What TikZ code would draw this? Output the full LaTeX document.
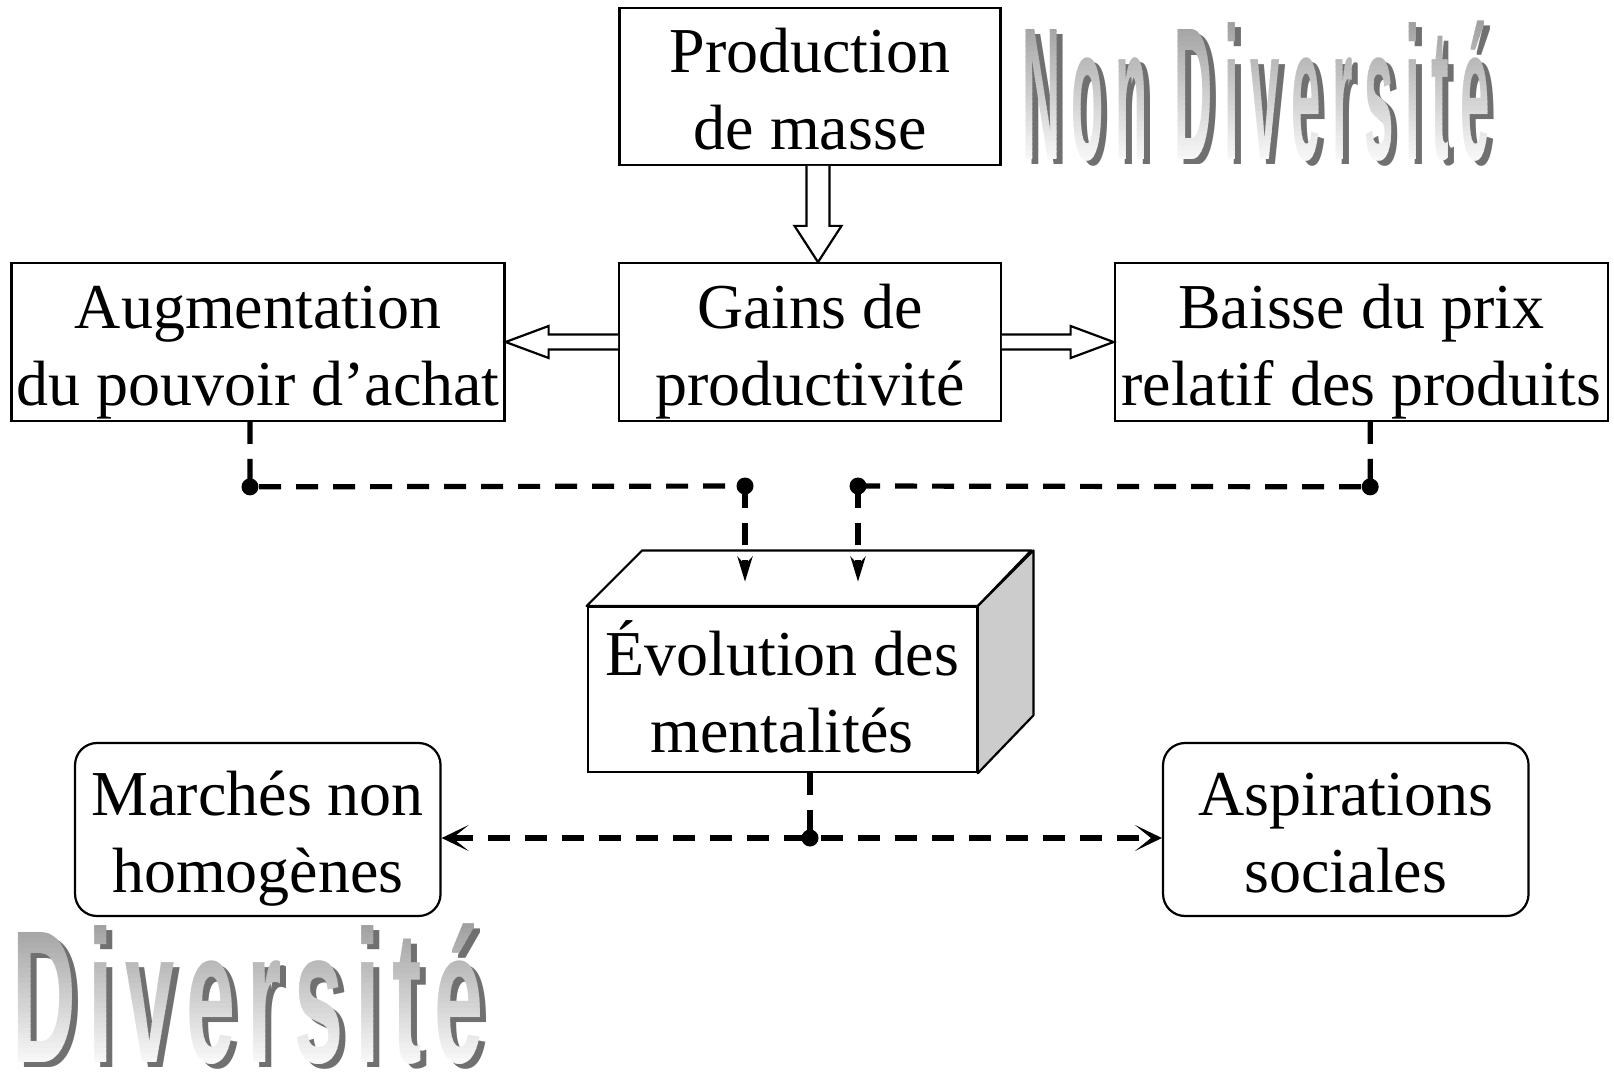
\documentclass[tikz,border=0pt]{standalone}
\usepackage{fontspec}
\setmainfont{Liberation Serif}
\newfontfamily\bigA{Liberation Sans}[LetterSpace=22]
\newfontfamily\bigB{Liberation Sans}[LetterSpace=14]
\usetikzlibrary{calc,arrows.meta}
\definecolor{shadowgray}{HTML}{707070}
\definecolor{sidegray}{HTML}{CCCCCC}
\newcommand\ndword{\scalebox{0.88}[3.15]{\bigA\bfseries\fontsize{60}{60}\selectfont Non Diversité}}
\newcommand\dword{\scalebox{1.47}[3.15]{\bigB\bfseries\fontsize{60}{60}\selectfont Diversité}}
\begin{document}
\begin{tikzpicture}[x=1pt,y=-1pt,
  txt/.style={font=\fontsize{64}{77}\selectfont, align=center, inner sep=0pt, text height=126pt, text depth=0pt},
  sqbox/.style={txt, draw, line width=2.2pt},
  rbox/.style={sqbox, rounded corners=22pt},
  hollow/.style={draw, line width=2.2pt, fill=white, line join=miter},
  dashline/.style={line width=5.2pt, dash pattern=on 22pt off 15pt},
  dotc/.style={circle, fill, inner sep=0pt, minimum size=17pt},
  vtip/.style={-{Stealth[length=25pt,width=15pt,inset=8pt]}},
  htip/.style={{Stealth[length=27pt,width=26pt,inset=16pt]}-{Stealth[length=27pt,width=26pt,inset=16pt]}},
  big/.style={anchor=base west, inner sep=0pt}
]
\useasboundingbox (0,0) rectangle (1614,1071);
\fill[white] (0,0) rectangle (1614,1071);

% big decorative words: shadow, then a gradient made of clipped strips
\node[big, text=shadowgray] (ndsh) at (1028,164) {\ndword};
\foreach \i in {0,...,29}{
  \pgfmathsetmacro\pct{38-\i*1.25}
  \begin{scope}
    \clip (1000,{16+\i*5}) rectangle (1530,{21.6+\i*5});
    \node[big, text=black!\pct] (nd\i) at (1022,159) {\ndword};
  \end{scope}
}
\node[big, text=shadowgray] (dsh) at (18,1067) {\dword};
\foreach \i in {0,...,29}{
  \pgfmathsetmacro\pct{38-\i*1.25}
  \begin{scope}
    \clip (0,{918+\i*5}) rectangle (520,{923.6+\i*5});
    \node[big, text=black!\pct] (dv\i) at (12,1062) {\dword};
  \end{scope}
}

% boxes
\node[sqbox, minimum width=381pt, minimum height=156.5pt] (prod) at (810,86.5) {Production\\de masse};
\node[sqbox, minimum width=381.5pt, minimum height=157.5pt] (gains) at (810,342) {Gains de\\productivité};
\node[sqbox, minimum width=493pt, minimum height=157.5pt] (augm) at (258,342) {Augmentation\\du pouvoir d’achat};
\node[sqbox, minimum width=493pt, minimum height=157.5pt] (baisse) at (1361.2,342) {Baisse du prix\\relatif des produits};
\node[sqbox, minimum width=389pt, minimum height=165pt] (evol) at (782.2,689.6) {Évolution des\\mentalités};
\draw[line width=2.2pt, fill=white, line join=round] (evol.north west) -- ++(55.6,-55.6) -- ++(389,0) -- (evol.north east) -- cycle;
\draw[line width=2.2pt, fill=sidegray, line join=round] (evol.north east) -- ++(55.6,-55.6) -- ++(0,165) -- (evol.south east) -- cycle;
\node[rbox, minimum width=365.5pt, minimum height=173pt] (march) at (257.8,829.5) {Marchés non\\homogènes};
\node[rbox, minimum width=365.5pt, minimum height=173pt] (aspir) at (1345.8,829.5) {Aspirations\\sociales};

% hollow arrows
\coordinate (pa) at ($(prod.south)+(8,0)$);
\coordinate (pb) at ($(gains.north)+(8,0)$);
\draw[hollow] ($(pa)+(-11.5,0)$) -- ($(pa)+(-11.5,60)$) -- ($(pa)+(-23.5,60)$) -- (pb) -- ($(pa)+(23.5,60)$) -- ($(pa)+(11.5,60)$) -- ($(pa)+(11.5,0)$);
\draw[hollow] ($(gains.west)+(0,-7.5)$) -- ($(augm.east)+(43,-7.5)$) -- ($(augm.east)+(43,-16)$) -- (augm.east) -- ($(augm.east)+(43,16)$) -- ($(augm.east)+(43,7.5)$) -- ($(gains.west)+(0,7.5)$);
\draw[hollow] ($(gains.east)+(0,-7.5)$) -- ($(baisse.west)+(-43,-7.5)$) -- ($(baisse.west)+(-43,-16)$) -- (baisse.west) -- ($(baisse.west)+(-43,16)$) -- ($(baisse.west)+(-43,7.5)$) -- ($(gains.east)+(0,7.5)$);

% dashed connectors
\coordinate (c1) at ($(augm.south)+(-8,65)$);
\coordinate (c4) at ($(baisse.south)+(9,65)$);
\coordinate (c2) at (745,486);
\coordinate (c3) at (858,486);
\coordinate (t1) at (745,581.7);
\coordinate (t2) at (858,581.7);
\coordinate (c5) at (810,838);
\draw[dashline] (augm.south -| c1) -- (c1) -- (c2);
\draw[dashline, vtip] (c2) -- (t1);
\draw[dashline] (baisse.south -| c4) -- (c4) -- (c3);
\draw[dashline, vtip] (c3) -- (t2);
\draw[dashline] (evol.south -| c5) -- (c5);
\draw[dashline, htip] (march.east |- c5) -- (aspir.west |- c5);
\node[dotc] (k1) at (c1) {};
\node[dotc] (k2) at (c2) {};
\node[dotc] (k3) at (c3) {};
\node[dotc] (k4) at (c4) {};
\node[dotc] (k5) at (c5) {};
\end{tikzpicture}
\end{document}
